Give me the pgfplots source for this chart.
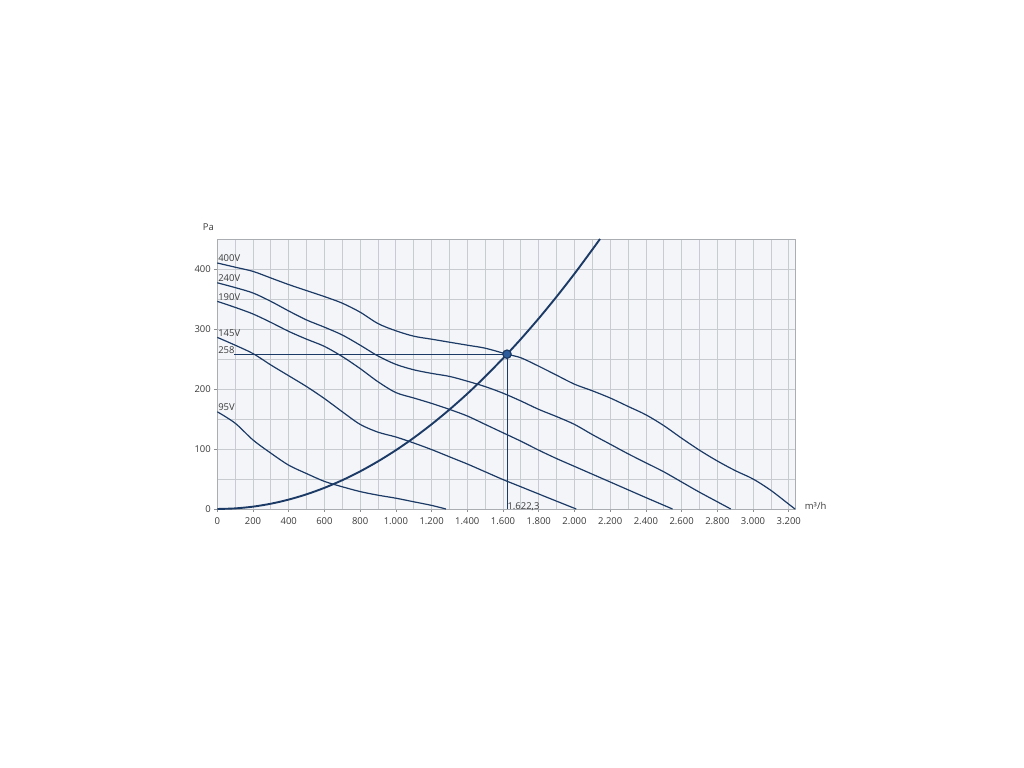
\documentclass[border=0pt]{standalone}
\usepackage{fontspec}
\setmainfont{Open Sans}
\usepackage{pgfplots}
\pgfplotsset{compat=1.18}

\definecolor{curve}{RGB}{28,58,102}
\definecolor{dot}{RGB}{44,92,156}
\definecolor{gridc}{RGB}{200,203,208}
\definecolor{bgc}{RGB}{243,245,248}
\definecolor{txt}{RGB}{60,60,60}

\begin{document}
\begin{tikzpicture}[x=1bp,y=1bp]
\useasboundingbox[fill=white] (0,0) rectangle (1024,768);
\begin{axis}[
  at={(217.3bp,259bp)}, anchor=south west,
  scale only axis, width=577.7bp, height=270bp,
  xmin=0, xmax=3235, ymin=0, ymax=450,
  xtick={0,200,...,3200}, minor xtick={100,300,...,3100},
  ytick={0,100,...,400}, minor ytick={50,150,...,450},
  grid=both,
  major grid style={gridc, line width=0.8bp},
  minor grid style={gridc, line width=0.8bp},
  axis line style={gridc!85!black, line width=0.8bp},
  axis background/.style={fill=bgc},
  tick align=outside, tick pos=left,
  major tick length=3bp, minor tick length=0bp,
  tick style={gridc!70!black, line width=0.6bp},
  tick label style={font=\fontsize{9.5}{11}\selectfont, text=txt},
  xticklabel style={yshift=-2.5bp},
  /pgf/number format/assume math mode=true,
  /pgf/number format/.cd, 1000 sep={.}, /tikz/.cd,
  scaled ticks=false,
  clip=false,
  every axis plot/.append style={curve, line width=1.2bp, no marks},
]
% 400V
\addplot[smooth] coordinates {(0,410) (100,403) (200,396) (300,385) (400,374) (500,364) (600,354) (700,343) (800,328) (900,309) (1000,297) (1100,288) (1200,283) (1300,278) (1400,273) (1500,268) (1622.3,258) (1700,252) (1800,238) (1900,223) (2000,208) (2100,197) (2200,185) (2300,171) (2400,157) (2500,139) (2600,118) (2700,98) (2800,80) (2900,64) (3000,50) (3100,31) (3200,8) (3235,0)};
% 240V
\addplot[smooth] coordinates {(0,377) (100,369) (200,360) (300,346) (400,330) (500,315) (600,303) (700,290) (800,273) (900,255) (1000,241) (1100,232) (1200,226) (1300,221) (1400,213) (1500,204) (1600,193) (1700,180) (1800,166) (1900,154) (2000,141) (2100,124) (2200,108) (2300,92) (2400,77) (2500,62) (2600,45) (2700,28) (2800,12) (2875,0)};
% 190V
\addplot[smooth] coordinates {(0,346) (100,336) (200,325) (300,311) (400,296) (500,283) (600,271) (700,254) (800,234) (900,212) (1000,194) (1100,185) (1200,176) (1300,166) (1400,155) (1500,141) (1600,127) (1700,113) (1800,98) (1900,84) (2000,71) (2100,58) (2200,45) (2300,32) (2400,19) (2549,0)};
% 145V
\addplot[smooth] coordinates {(0,286) (100,273) (200,259) (300,240) (400,222) (500,204) (600,184) (700,162) (800,141) (900,128) (1000,120) (1100,110) (1200,99) (1300,87) (1400,75) (1500,62) (1600,49) (1700,37) (1800,25) (1900,13) (2010,0)};
% 95V
\addplot[smooth] coordinates {(0,162) (100,143) (200,115) (300,93) (400,73) (500,59) (600,46) (700,37) (800,29) (900,23) (1000,18) (1100,12) (1200,6) (1280,0)};
% system curve
\addplot[smooth, line width=1.9bp] coordinates {(0,0) (100,1) (200,3.9) (300,8.8) (400,15.7) (500,24.5) (600,35.3) (700,48) (800,62.7) (900,79.4) (1000,98) (1100,118.6) (1200,141.2) (1300,165.7) (1400,192.1) (1500,220.6) (1600,251) (1622.3,258) (1700,283.3) (1800,317.6) (1900,353.9) (2000,392.1) (2100,432.3) (2143,450)};
% operating point lines
\addplot[sharp plot, line width=0.9bp] coordinates {(95,258) (1622.3,258)};
\addplot[sharp plot, line width=0.9bp] coordinates {(1622.3,258) (1622.3,0)};
\addplot[only marks, mark=*, mark size=4.2bp, mark options={fill=dot, draw=curve, line width=1.2bp}] coordinates {(1622.3,258)};

\begin{scope}[every node/.style={font=\fontsize{9.5}{11}\selectfont, text=txt, inner sep=0.8bp}]
\node[anchor=south west] at (axis cs:0,410) {400V};
\node[anchor=south west] at (axis cs:0,377) {240V};
\node[anchor=south west] at (axis cs:0,346) {190V};
\node[anchor=south west] at (axis cs:0,286) {145V};
\node[anchor=south west] at (axis cs:0,258) {258};
\node[anchor=south west] at (axis cs:0,162) {95V};
\node[anchor=south west, inner sep=0.3bp] at (axis cs:1622.3,-4) {1.622,3};
\node at (axis cs:-50,470) {Pa};
\node[anchor=west] at (axis cs:3285,5) {m³/h};
\end{scope}
\end{axis}
\end{tikzpicture}
\end{document}
